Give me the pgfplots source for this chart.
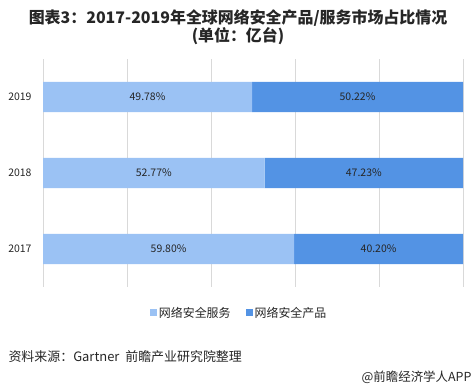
\documentclass[border=0pt]{standalone}
\usepackage{fontspec}
\setmainfont{Noto Sans CJK SC}
\usepackage{pgfplots}
\pgfplotsset{compat=1.18}
\definecolor{lightb}{HTML}{9BC2F4}
\definecolor{darkb}{HTML}{5393E4}
\definecolor{gridc}{HTML}{D9D9D9}
\definecolor{txt}{HTML}{262626}
\pgfplotsset{myaxis/.style={at={(43bp,103bp)}, anchor=south west, scale only axis,
  width=420bp, height=228bp, xmin=0, xmax=100, ymin=-0.5, ymax=2.5}}
\begin{document}
\begin{tikzpicture}
\path[use as bounding box] (0bp,0bp) rectangle (474bp,390bp);
\begin{axis}[myaxis,
  xbar stacked, bar width=0.4,
  ytick={0,1,2}, yticklabels={2017,2018,2019},
  xtick={0,20,40,60,80,100}, xticklabels={},
  xmajorgrids, grid style={draw=gridc, line width=0.8pt},
  axis line style={draw=none}, major tick length=0pt,
  yticklabel style={font=\fontsize{10.5}{12}\selectfont, text=txt, xshift=-8bp},
  legend style={at={(0.467,-0.114)}, anchor=center, draw=none, fill=none,
    legend columns=2, font=\fontsize{12}{13}\selectfont, text=txt,
    /tikz/every even column/.style={column sep=13bp}},
  legend image code/.code={\fill[#1] (0bp,-3.5bp) rectangle (7bp,3.5bp);},
]
\addplot[fill=lightb, draw=none] coordinates {(59.80,0) (52.77,1) (49.78,2)};
\addplot[fill=darkb, draw=none] coordinates {(40.20,0) (47.23,1) (50.22,2)};
\legend{网络安全服务, 网络安全产品}
\end{axis}
\begin{axis}[myaxis, hide axis]
\addplot[only marks, mark=none, point meta=explicit symbolic,
  nodes near coords, nodes near coords align=center,
  every node near coord/.style={anchor=center, font=\fontsize{10.5}{12}\selectfont, text=txt}]
  coordinates {
  (29.90,0) [59.80\%] (79.90,0) [40.20\%]
  (26.385,1) [52.77\%] (76.385,1) [47.23\%]
  (24.89,2) [49.78\%] (74.89,2) [50.22\%]};
\end{axis}
\node[font=\bfseries\fontsize{16}{15}\selectfont, text=txt, align=center, inner sep=0pt] at (238bp,362.5bp) {图表3：2017-2019年全球网络安全产品/服务市场占比情况\\(单位：亿台)};
\node[font=\fontsize{13}{14}\selectfont, text=txt, anchor=west] at (5bp,33bp) {资料来源：Gartner\ \ 前瞻产业研究院整理};
\node[font=\fontsize{12.5}{13}\selectfont, text=txt, anchor=east] at (475bp,13bp) {@前瞻经济学人APP};
\end{tikzpicture}
\end{document}
